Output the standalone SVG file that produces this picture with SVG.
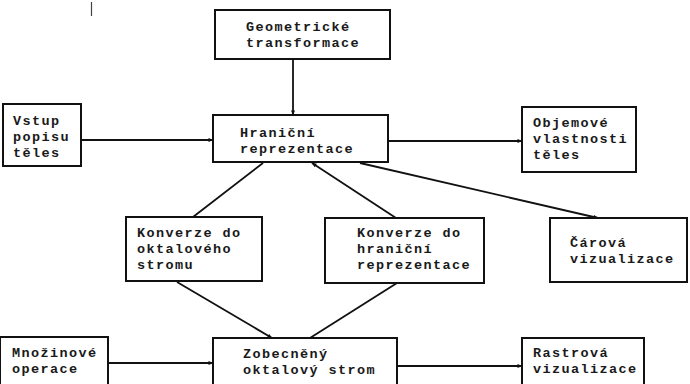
<svg xmlns="http://www.w3.org/2000/svg" width="690" height="384" viewBox="0 0 690 384">
<style>
.box{fill:#fff;stroke:#111;stroke-width:2}
.t{font-family:"Liberation Mono","DejaVu Sans Mono",monospace;font-size:13.5px;font-weight:bold;fill:#1a1a1a;letter-spacing:1.4px}
.c{stroke:#111;stroke-width:1.8;fill:none}
.a{marker-end:url(#ah)}
</style>
<defs>
<marker id="ah" viewBox="0 0 10 10" refX="9" refY="5" markerWidth="6" markerHeight="5" markerUnits="userSpaceOnUse" orient="auto">
<path d="M0,1 L10,5 L0,9 z" fill="#111"/>
</marker>
</defs>
<rect width="690" height="384" fill="#fff"/>
<line x1="91.5" y1="2" x2="91.5" y2="16" stroke="#444" stroke-width="1.2"/>
<g id="connectors">
<line class="c a" x1="293" y1="59" x2="293" y2="115"/>
<line class="c a" x1="81" y1="140" x2="213" y2="140"/>
<line class="c a" x1="388" y1="141" x2="522" y2="141"/>
<line class="c" x1="263" y1="163" x2="193" y2="217"/>
<line class="c a" x1="396" y1="218" x2="312" y2="163"/>
<line class="c a" x1="360" y1="163" x2="598" y2="218"/>
<line class="c a" x1="177" y1="282" x2="272" y2="338"/>
<line class="c" x1="397" y1="283" x2="310" y2="338"/>
<line class="c a" x1="108" y1="363" x2="213" y2="363"/>
<line class="c a" x1="397" y1="366" x2="522" y2="366"/>
</g>
<g id="geom">
<rect class="box" x="215" y="10" width="175" height="49"/>
<text class="t" x="246" y="31">Geometrické</text>
<text class="t" x="246" y="47">transformace</text>
</g>
<g id="hranicni">
<rect class="box" x="213" y="115" width="175" height="47"/>
<text class="t" x="240" y="137">Hraniční</text>
<text class="t" x="240" y="153">reprezentace</text>
</g>
<g id="vstup">
<rect class="box" x="3" y="104" width="78" height="62"/>
<text class="t" x="13" y="125">Vstup</text>
<text class="t" x="13" y="141">popisu</text>
<text class="t" x="13" y="157">těles</text>
</g>
<g id="objemove">
<rect class="box" x="522" y="107" width="114" height="65"/>
<text class="t" x="533" y="127">Objemové</text>
<text class="t" x="533" y="143">vlastnosti</text>
<text class="t" x="533" y="159">těles</text>
</g>
<g id="konv-okt">
<rect class="box" x="126" y="217" width="136" height="64"/>
<text class="t" x="137" y="237">Konverze do</text>
<text class="t" x="137" y="253">oktalového</text>
<text class="t" x="137" y="269">stromu</text>
</g>
<g id="konv-hran">
<rect class="box" x="325" y="218" width="159" height="65"/>
<text class="t" x="357" y="237">Konverze do</text>
<text class="t" x="357" y="253">hraniční</text>
<text class="t" x="357" y="269">reprezentace</text>
</g>
<g id="carova">
<rect class="box" x="550" y="218" width="137" height="64"/>
<text class="t" x="570" y="247">Čárová</text>
<text class="t" x="570" y="263">vizualizace</text>
</g>
<g id="mnozinove">
<rect class="box" x="0" y="337" width="108" height="52"/>
<text class="t" x="12" y="357">Množinové</text>
<text class="t" x="12" y="373">operace</text>
</g>
<g id="zobecneny">
<rect class="box" x="213" y="338" width="184" height="52"/>
<text class="t" x="243" y="358">Zobecněný</text>
<text class="t" x="243" y="374">oktalový strom</text>
</g>
<g id="rastrova">
<rect class="box" x="522" y="338" width="122" height="52"/>
<text class="t" x="533" y="357">Rastrová</text>
<text class="t" x="533" y="373">vizualizace</text>
</g>
</svg>
